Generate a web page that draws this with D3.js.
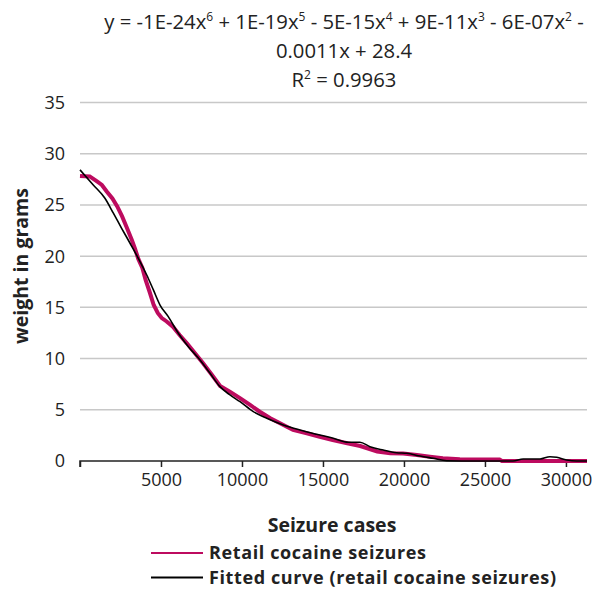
<!DOCTYPE html>
<html>
<head>
<meta charset="utf-8">
<script src="https://cdn.jsdelivr.net/npm/d3@7"></script>
<style>
  body { margin: 0; background: #fff; }
  text { font-family: "Open Sans", "DejaVu Sans", sans-serif; fill: #222; }
</style>
</head>
<body>
<div id="chart"></div>
<script>
// retail cocaine seizures
const seizureX = [0, 600, 1050, 1350, 1650, 2000, 2300, 2600, 2900, 3200, 3400, 3600, 3850, 4050, 4300, 4550, 4800, 5050, 5350, 5750, 6150, 6600, 7100, 7600, 8150, 8650, 9250, 9900, 10500, 11100, 11750, 12350, 13150, 14000, 14800, 15600, 16500, 17300, 18350, 19150, 19950, 20800, 21600, 22400, 23450, 24500, 25900, 26050, 31300];
const seizureY = [27.83, 27.78, 27.29, 26.95, 26.32, 25.63, 24.85, 23.88, 22.75, 21.58, 20.7, 19.73, 18.85, 17.68, 16.5, 15.23, 14.45, 13.96, 13.62, 13.09, 12.3, 11.49, 10.52, 9.54, 8.4, 7.32, 6.77, 6.12, 5.47, 4.81, 4.17, 3.68, 3.03, 2.71, 2.37, 2.05, 1.73, 1.46, 0.93, 0.75, 0.73, 0.59, 0.42, 0.26, 0.17, 0.15, 0.15, 0, 0];

// fitted curve
const fitX = [0, 820, 1540, 2060, 2570, 3090, 3600, 4120, 4530, 4940, 5450, 6070, 6690, 7410, 8030, 8640, 9260, 9880, 10700, 11530, 12550, 13580, 14610, 15640, 16560, 17280, 17900, 18720, 19550, 20170, 20990, 21810, 22640, 24490, 26730, 27360, 28400, 29010, 29430, 30040, 30660, 31300];
const fitY = [28.42, 26.95, 25.65, 24.19, 22.72, 21.26, 19.79, 18.16, 16.7, 15.23, 14.09, 12.47, 11.16, 9.86, 8.56, 7.26, 6.45, 5.79, 4.82, 4.17, 3.52, 3.03, 2.61, 2.22, 1.83, 1.83, 1.4, 1.07, 0.81, 0.75, 0.49, 0.26, 0.03, 0, 0, 0.2, 0.2, 0.42, 0.36, 0.1, 0, 0];

const yTicks = [0, 5, 10, 15, 20, 25, 30, 35];
const xTicks = [0, 5000, 10000, 15000, 20000, 25000, 30000];
const xTickLabels = ["", "5000", "10000", "15000", "20000", "25000", "30000"];

const equationLines = ["y = -1E-24x|6| + 1E-19x|5| - 5E-15x|4| + 9E-11x|3| - 6E-07x|2| -", "0.0011x + 28.4", "R|2| = 0.9963"];
const seriesNames = ["Retail cocaine seizures", "Fitted curve (retail cocaine seizures)"];
const colors = ["#bd0b5f", "#000000"];

const width = 599, height = 590;
const svg = d3.select("#chart").append("svg")
    .attr("width", width)
    .attr("height", height);

const x = d3.scaleLinear().domain([0, 31300]).range([80, 587]);
const y = d3.scaleLinear().domain([0, 35]).range([461, 102.5]);

// grid lines
svg.append("g")
    .selectAll("line")
    .data(yTicks.filter(d => d > 0))
    .enter().append("line")
    .attr("x1", 80).attr("x2", 587)
    .attr("y1", d => y(d)).attr("y2", d => y(d))
    .attr("stroke", "#c8c8c8")
    .attr("stroke-width", 1.5);

// y labels
svg.append("g")
    .selectAll("text")
    .data(yTicks)
    .enter().append("text")
    .attr("x", 65)
    .attr("y", d => y(d))
    .attr("dy", "0.36em")
    .attr("text-anchor", "end")
    .attr("font-size", 18)
    .text(d => d);

// x axis
const xAxis = svg.append("g")
    .attr("transform", "translate(0," + y(0) + ")")
    .call(d3.axisBottom(x).tickValues(xTicks).tickSize(6).tickPadding(6)
        .tickFormat((d, i) => xTickLabels[i]));
xAxis.select(".domain").attr("stroke", "#222").attr("stroke-width", 1.5).attr("d", "M80,6V0H587");
xAxis.selectAll(".tick line").attr("stroke", "#222").attr("stroke-width", 1.5);
xAxis.selectAll(".tick text").attr("font-size", 18).attr("font-family", "Open Sans, DejaVu Sans, sans-serif").attr("fill", "#222");

// series
const seizures = seizureX.map((d, i) => [d, seizureY[i]]);
const fitted = fitX.map((d, i) => [d, fitY[i]]);

svg.append("path")
    .datum(seizures)
    .attr("fill", "none")
    .attr("stroke", colors[0])
    .attr("stroke-width", 4)
    .attr("d", d3.line().x(d => x(d[0])).y(d => y(d[1])));

svg.append("path")
    .datum(fitted)
    .attr("fill", "none")
    .attr("stroke", colors[1])
    .attr("stroke-width", 1.6)
    .attr("d", d3.line().curve(d3.curveMonotoneX).x(d => x(d[0])).y(d => y(d[1])));

// equation text, superscripts between bars
const eq = svg.append("g");
equationLines.forEach((line, i) => {
    const t = eq.append("text")
        .attr("x", 344)
        .attr("y", 29 + i * 29)
        .attr("text-anchor", "middle")
        .attr("font-size", 20.3);
    line.split("|").forEach((part, j) => {
        if (j % 2 == 1) {
            t.append("tspan").attr("font-size", 12).attr("dy", -8).text(part);
        } else {
            t.append("tspan").attr("dy", j > 0 ? 8 : 0).text(part);
        }
    });
});

// axis titles
svg.append("text")
    .attr("transform", "translate(28,266) rotate(-90)")
    .attr("text-anchor", "middle")
    .attr("font-size", 19.5)
    .attr("font-weight", "bold")
    .text("weight in grams");

svg.append("text")
    .attr("x", 332)
    .attr("y", 532)
    .attr("text-anchor", "middle")
    .attr("font-size", 19.5)
    .attr("font-weight", "bold")
    .text("Seizure cases");

// legend
const legend = svg.append("g")
    .selectAll("g")
    .data(seriesNames)
    .enter().append("g")
    .attr("transform", (d, i) => "translate(151," + (553 + i * 24.5) + ")");
legend.append("line")
    .attr("x1", 0).attr("x2", 52)
    .attr("stroke", (d, i) => colors[i])
    .attr("stroke-width", 2);
legend.append("text")
    .attr("x", 58)
    .attr("dy", "0.34em")
    .attr("font-size", 18)
    .attr("font-weight", "bold")
    .attr("textLength", (d, i) => i == 0 ? 217 : 347)
    .attr("lengthAdjust", "spacing")
    .text(d => d);
</script>
</body>
</html>
